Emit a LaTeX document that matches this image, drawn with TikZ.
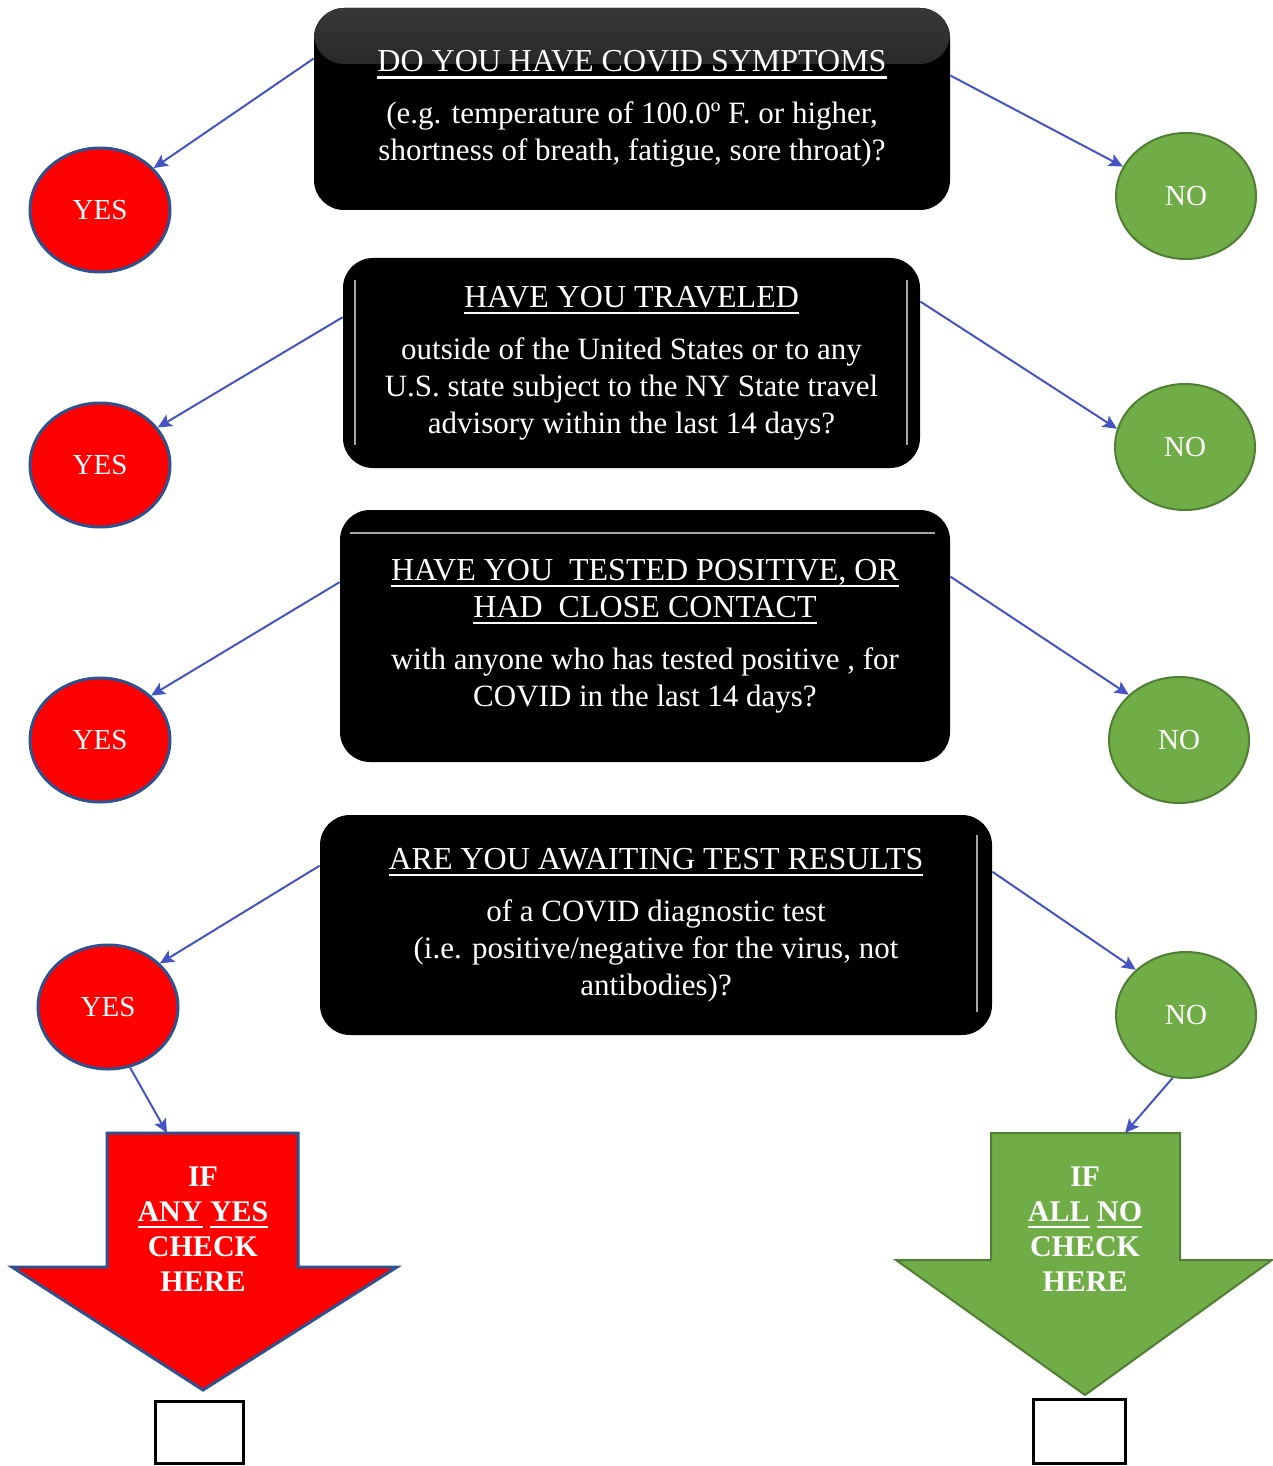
\documentclass[tikz,border=0pt]{standalone}
\usepackage{fontspec}
\setmainfont{Liberation Serif}
\usetikzlibrary{arrows.meta,shapes.geometric}
\definecolor{yesred}{RGB}{255,0,0}
\definecolor{yesedge}{RGB}{47,82,143}
\definecolor{nogreen}{RGB}{112,173,71}
\definecolor{noedge}{RGB}{80,126,50}
\definecolor{linkblue}{RGB}{68,84,196}
\newcommand{\ulin}[1]{\setbox0=\hbox{#1}\leavevmode\rlap{\rule[-3.5pt]{\wd0}{1.3pt}}\box0{}}
\newcommand{\qtitle}[1]{{\fontsize{16}{18}\selectfont\ulin{#1}}}
\begin{document}
\begin{tikzpicture}[x=0.5pt,y=-0.5pt,
    qbox/.style={fill=black, rounded corners=15pt, text=white, align=center, inner sep=0pt,
      font=\fontsize{15.5}{18.5}\selectfont},
    yesdot/.style={ellipse, fill=yesred, draw=yesedge, line width=1.5pt, text=white, inner sep=0pt,
      minimum width=70pt, minimum height=62pt, font=\fontsize{14.5}{16}\selectfont},
    nodot/.style={ellipse, fill=nogreen, draw=noedge, line width=1pt, text=white, inner sep=0pt,
      minimum width=70pt, minimum height=63pt, font=\fontsize{14.5}{16}\selectfont},
    link/.style={draw=linkblue, line width=1pt, -{Stealth[length=7pt,width=6.5pt,inset=1.5pt]}},
    sheen/.style={draw=black!35, line width=0.7pt},
    bigtext/.style={text=white, align=center, font=\fontsize{15}{17.5}\selectfont\bfseries},
    checkbox/.style={draw=black, line width=1.5pt, fill=white}]
  \useasboundingbox (0,0) rectangle (1273,1466);

  % questions
  \node [qbox, minimum width=318pt, minimum height=101pt,
    path picture={\shade[top color=black!78, bottom color=black]
      (path picture bounding box.north west) rectangle ([yshift=-28pt]path picture bounding box.north east);}]
    (q1) at (632,109) {\qtitle{DO YOU HAVE COVID SYMPTOMS}\\[7.5pt]
      (e.g. temperature of 100.0º F. or higher,\\ shortness of breath, fatigue, sore throat)?};
  \node [qbox, minimum width=288.5pt, minimum height=105pt] (q2) at (631.5,363)
    {\qtitle{HAVE YOU TRAVELED}\\[7.5pt] outside of the United States or to any\\
      U.S. state subject to the NY State travel\\ advisory within the last 14 days?};
  \node [qbox, minimum width=305pt, minimum height=126pt] (q3) at (645,636)
    {\qtitle{HAVE YOU\ \ TESTED POSITIVE, OR}\\ \qtitle{HAD\ \ CLOSE CONTACT}\\[7.5pt]
      with anyone who has tested positive , for\\ COVID in the last 14 days?};
  \node [qbox, minimum width=336pt, minimum height=110pt] (q4) at (656,925)
    {\qtitle{ARE YOU AWAITING TEST RESULTS}\\[7.5pt] of a COVID diagnostic test\\
      (i.e. positive/negative for the virus, not\\ antibodies)?};
  \draw [sheen] (355,280) -- (355,445) (907,280) -- (907,445);
  \draw [sheen] (350,533) -- (935,533);
  \draw [sheen] (977,835) -- (977,1012);

  % answers
  \node [yesdot] (y1) at (100,210) {YES};
  \node [yesdot] (y2) at (100,465) {YES};
  \node [yesdot] (y3) at (100,740) {YES};
  \node [yesdot] (y4) at (108,1007) {YES};
  \node [nodot] (n1) at (1186,196) {NO};
  \node [nodot] (n2) at (1185,447) {NO};
  \node [nodot] (n3) at (1179,740) {NO};
  \node [nodot] (n4) at (1186,1015) {NO};

  % big arrows and boxes
  \filldraw [fill=yesred, draw=yesedge, line width=1.5pt]
    (107,1133) -- (298,1133) -- (298,1267) -- (397,1267) -- (203,1390) -- (12,1267) -- (107,1267) -- cycle;
  \filldraw [fill=nogreen, draw=noedge, line width=1pt]
    (991,1133) -- (1180,1133) -- (1180,1260) -- (1272,1260) -- (1085,1395) -- (896,1260) -- (991,1260) -- cycle;
  \node [bigtext] (anyyes) at (203,1229) {IF\\ \ulin{ANY} \ulin{YES}\\ CHECK\\ HERE};
  \node [bigtext] (allno) at (1085,1229) {IF\\ \ulin{ALL} \ulin{NO}\\ CHECK\\ HERE};
  \coordinate (yestop) at (167,1133);
  \coordinate (notop) at (1125,1133);
  \draw [checkbox] (155,1401) rectangle (243,1463);
  \draw [checkbox] (1033,1399) rectangle (1125,1463);

  % connectors
  \draw [link] (q1.171) -- (y1.38);
  \draw [link] (q1.6.6) -- (n1.155);
  \draw [link] (q2.171) -- (y2.33);
  \draw [link] (q2.12.3) -- (n2.165);
  \draw [link] (q3.170.5) -- (y3.41);
  \draw [link] (q3.11.7) -- (n3.138);
  \draw [link] (q4.170) -- (y4.40);
  \draw [link] (q4.9.7) -- (n4.138);
  \draw [link] (y4.290) -- (yestop);
  \draw [link] (n4.258) -- (notop);
\end{tikzpicture}
\end{document}
